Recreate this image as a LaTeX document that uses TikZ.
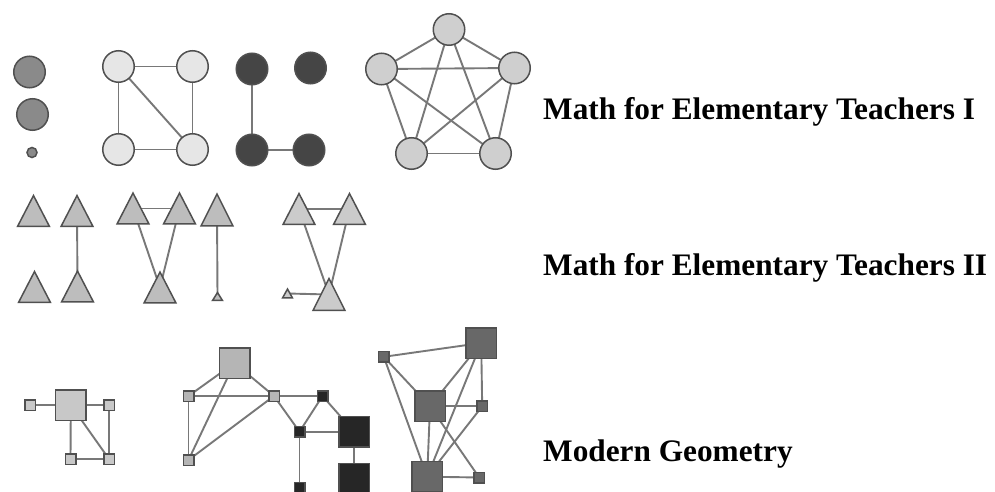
\documentclass[tikz,border=0pt]{standalone}
\usepackage{fontspec}
\setmainfont{Liberation Serif}
\usetikzlibrary{backgrounds}
\definecolor{edgec}{HTML}{787878}
\definecolor{bordc}{HTML}{505050}
\definecolor{fmid}{HTML}{8A8A8A}
\definecolor{flight}{HTML}{E6E6E6}
\definecolor{fdark}{HTML}{454545}
\definecolor{fpent}{HTML}{CFCFCF}
\definecolor{ftriA}{HTML}{BDBDBD}
\definecolor{ftriB}{HTML}{CBCBCB}
\definecolor{fsq}{HTML}{C8C8C8}
\definecolor{fbsq}{HTML}{B5B5B5}
\definecolor{fblack}{HTML}{262626}
\definecolor{fgsq}{HTML}{686868}
\tikzset{
  circ/.style={circle, draw=bordc, line width=1.5pt, inner sep=0pt, minimum size=#1},
  sqr/.style={rectangle, draw=bordc, line width=1.5pt, inner sep=0pt, minimum size=#1},
  trinode/.style 2 args={inner sep=0pt, minimum width=#1, minimum height=#2},
  tridraw/.style={draw=bordc, line width=1.5pt, line join=miter},
  edge/.style={draw=edgec, line width=1.9pt},
  title/.style={anchor=base west, inner sep=0pt, font=\bfseries\fontsize{31.3}{36}\selectfont}
}
\begin{document}
\begin{tikzpicture}[x=1pt,y=-1pt]
\useasboundingbox (0,0) rectangle (995,492);
% ---- row 1: circles
\node[circ=31.5, fill=fmid] (a1) at (29.5,72) {};
\node[circ=31.5, fill=fmid] (a2) at (32.5,114.5) {};
\node[circ=10, fill=fmid] (a3) at (32,152.5) {};
\node[circ=31.5, fill=flight] (c1) at (118.5,66.5) {};
\node[circ=31.5, fill=flight] (c2) at (192.5,66.5) {};
\node[circ=31.5, fill=flight] (c3) at (118.5,149.5) {};
\node[circ=31.5, fill=flight] (c4) at (192.5,149.5) {};
\node[circ=31.5, fill=fdark] (k1) at (252,69) {};
\node[circ=31.5, fill=fdark] (k2) at (310.5,68) {};
\node[circ=31.5, fill=fdark] (k3) at (252,150) {};
\node[circ=31.5, fill=fdark] (k4) at (309,150) {};
\node[circ=31.5, fill=fpent] (p1) at (449,29.5) {};
\node[circ=31.5, fill=fpent] (p2) at (381.5,69) {};
\node[circ=31.5, fill=fpent] (p3) at (514.5,68) {};
\node[circ=31.5, fill=fpent] (p4) at (411.5,153.5) {};
\node[circ=31.5, fill=fpent] (p5) at (495.5,153.5) {};
% ---- row 2: triangles
\node[trinode={31.5}{30.5}] (t1) at (33.5,211) {};
\node[trinode={31.5}{30.5}] (t2) at (77,211) {};
\node[trinode={31.5}{30.5}] (t3) at (34.5,287) {};
\node[trinode={31.5}{30.5}] (t4) at (77.5,286.5) {};
\node[trinode={31.5}{30.5}] (t5) at (133,208.5) {};
\node[trinode={31.5}{30.5}] (t6) at (179.5,208.5) {};
\node[trinode={31.5}{31.5}] (t7) at (217,210) {};
\node[trinode={31.5}{30.5}] (t8) at (160,287.5) {};
\node[trinode={9.5}{7.5}] (t9) at (217.5,296.5) {};
\node[trinode={31.5}{30.5}] (t10) at (299,209) {};
\node[trinode={31.5}{30.5}] (t11) at (349.5,209) {};
\node[trinode={31.5}{31.5}] (t12) at (329,294.5) {};
\node[trinode={9.5}{8.5}] (t13) at (287.5,293.5) {};
\foreach \i in {1,...,9}
  \filldraw[tridraw, fill=ftriA] (t\i.south west) -- (t\i.north) -- (t\i.south east) -- cycle;
\foreach \i in {10,...,13}
  \filldraw[tridraw, fill=ftriB] (t\i.south west) -- (t\i.north) -- (t\i.south east) -- cycle;
% ---- row 3: squares
\node[sqr=30.5, fill=fsq] (s1) at (70.8,405) {};
\node[sqr=10.5, fill=fsq] (s2) at (30,405) {};
\node[sqr=10.5, fill=fsq] (s3) at (109,405) {};
\node[sqr=10.5, fill=fsq] (s4) at (70.5,459) {};
\node[sqr=10.5, fill=fsq] (s5) at (109,459) {};
\node[sqr=30.5, fill=fbsq] (b1) at (234.5,363) {};
\node[sqr=10.5, fill=fbsq] (b2) at (188.5,396) {};
\node[sqr=10.5, fill=fbsq] (b3) at (274,396) {};
\node[sqr=10.5, fill=fbsq] (b4) at (188.5,460) {};
\node[sqr=10.5, fill=fblack] (d1) at (322.5,396) {};
\node[sqr=10.5, fill=fblack] (d2) at (299.5,431.7) {};
\node[sqr=30.5, fill=fblack] (d3) at (354,431.7) {};
\node[sqr=30.5, fill=fblack] (d4) at (354,478.5) {};
\node[sqr=10.5, fill=fblack] (d5) at (299.5,487.7) {};
\node[sqr=30.5, fill=fgsq] (g1) at (481.2,343) {};
\node[sqr=10.5, fill=fgsq] (g2) at (383.8,356.8) {};
\node[sqr=30.5, fill=fgsq] (g3) at (430,406.3) {};
\node[sqr=10.5, fill=fgsq] (g4) at (482.2,406.3) {};
\node[sqr=30.5, fill=fgsq] (g5) at (427.2,476.7) {};
\node[sqr=10.5, fill=fgsq] (g6) at (479.2,477.5) {};
% ---- titles
\node[title] (l1) at (543,120) {Math for Elementary Teachers I};
\node[title] (l2) at (543,275) {Math for Elementary Teachers II};
\node[title] (l3) at (543,461) {Modern Geometry};
% ---- edges
\begin{scope}[on background layer]
\fill[white] (0,0) rectangle (995,492);
\foreach \u/\v in {c1/c2,c1/c3,c2/c4,c3/c4,c1/c4,
                   k1/k3,k3/k4,
                   p1/p2,p1/p3,p1/p4,p1/p5,p2/p3,p2/p4,p2/p5,p3/p4,p3/p5,p4/p5,
                   t2/t4,t5/t6,t5/t8,t6/t8,t7/t9,t10/t11,t10/t12,t11/t12,t13/t12,
                   s2/s1,s1/s3,s1/s4,s1/s5,s3/s5,s4/s5,
                   b1/b2,b1/b3,b1/b4,b2/b3,b2/b4,b3/b4,b3/d1,b3/d2,
                   d1/d2,d1/d3,d2/d3,d2/d5,d3/d4,
                   g2/g1,g2/g3,g2/g5,g1/g3,g1/g5,g1/g4,g3/g4,g3/g5,g3/g6,g4/g5,g5/g6}
  \draw[edge] (\u.center) -- (\v.center);
\end{scope}
\end{tikzpicture}
\end{document}
